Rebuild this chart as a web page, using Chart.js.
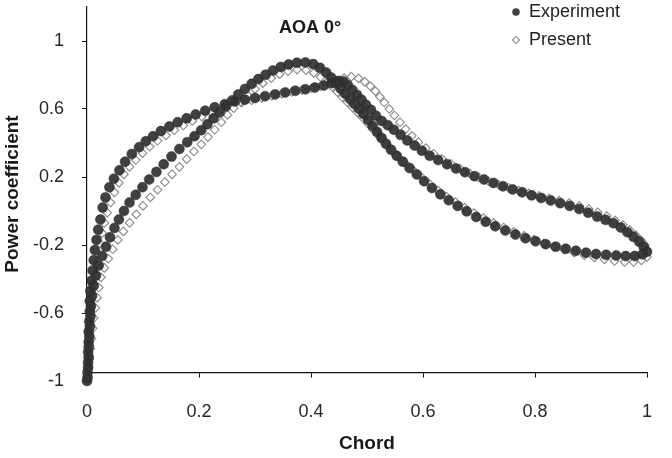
<!DOCTYPE html>
<html>
<head>
<meta charset="utf-8">
<script src="https://cdn.jsdelivr.net/npm/chart.js@4.4.1/dist/chart.umd.min.js"></script>
<style>
  html, body { margin: 0; padding: 0; background: #fff; }
</style>
</head>
<body>
<canvas id="cpChart" width="672" height="458"></canvas>
<script>
// axis ticks
const xTickValues = [0, 0.2, 0.4, 0.6, 0.8, 1];
const xTickLabels = ['0', '0.2', '0.4', '0.6', '0.8', '1'];
const yTickValues = [-1, -0.6, -0.2, 0.2, 0.6, 1];
const yTickLabels = ['-1', '-0.6', '-0.2', '0.2', '0.6', '1'];

// Experiment, surface with the early plateau
const expAX = [0.000,0.001,0.002,0.002,0.003,0.003,0.004,0.005,0.005,0.006,0.008,0.010,0.012,0.014,0.017,0.020,0.024,0.028,0.033,0.040,
  0.048,0.058,0.068,0.080,0.093,0.105,0.118,0.132,0.147,0.162,0.178,0.194,0.211,0.228,0.246,0.264,0.282,0.300,0.318,0.336,
  0.354,0.372,0.390,0.407,0.423,0.437,0.450,0.458,0.466,0.474,0.482,0.490,0.498,0.507,0.516,0.526,0.537,0.548,0.560,0.572,
  0.585,0.598,0.612,0.627,0.643,0.659,0.675,0.692,0.709,0.726,0.743,0.760,0.777,0.794,0.811,0.828,0.845,0.862,0.879,0.895,
  0.911,0.926,0.940,0.953,0.965,0.976,0.986,0.994,1.000];
const expAY = [-1.00,-0.95,-0.89,-0.83,-0.77,-0.71,-0.65,-0.59,-0.53,-0.47,-0.41,-0.35,-0.29,-0.23,-0.17,-0.11,-0.05,0.02,0.08,0.14,
  0.19,0.24,0.29,0.335,0.375,0.41,0.44,0.47,0.497,0.522,0.545,0.568,0.59,0.61,0.628,0.644,0.655,0.665,0.675,0.686,
  0.697,0.707,0.716,0.726,0.738,0.752,0.765,0.762,0.74,0.712,0.683,0.655,0.625,0.595,0.56,0.53,0.505,0.478,0.448,0.415,
  0.385,0.355,0.325,0.300,0.275,0.250,0.228,0.205,0.185,0.165,0.145,0.127,0.110,0.092,0.077,0.062,0.046,0.030,0.012,-0.010,
  -0.033,-0.052,-0.072,-0.097,-0.125,-0.152,-0.18,-0.21,-0.24];

// Experiment, surface with the high peak
const expBX = [0.001,0.002,0.003,0.003,0.004,0.005,0.006,0.007,0.009,0.012,0.016,0.021,0.027,0.034,0.041,0.049,0.057,0.066,0.076,0.087,
  0.099,0.111,0.124,0.137,0.151,0.165,0.179,0.192,0.204,0.215,0.226,0.237,0.248,0.259,0.270,0.282,0.294,0.306,0.319,0.332,
  0.346,0.360,0.375,0.390,0.404,0.416,0.427,0.436,0.445,0.453,0.461,0.470,0.478,0.486,0.494,0.502,0.510,0.518,0.526,0.534,
  0.543,0.553,0.564,0.576,0.589,0.602,0.616,0.631,0.646,0.662,0.678,0.695,0.712,0.729,0.747,0.765,0.783,0.801,0.819,0.837,
  0.855,0.873,0.891,0.909,0.927,0.945,0.962,0.978,0.992];
const expBY = [-0.98,-0.92,-0.86,-0.80,-0.74,-0.68,-0.62,-0.56,-0.50,-0.44,-0.38,-0.32,-0.265,-0.21,-0.155,-0.10,-0.05,0.0,0.05,0.095,
  0.14,0.185,0.23,0.275,0.32,0.365,0.405,0.44,0.475,0.51,0.545,0.58,0.615,0.65,0.685,0.718,0.748,0.776,0.802,0.826,
  0.847,0.862,0.872,0.874,0.864,0.842,0.815,0.785,0.752,0.72,0.69,0.658,0.628,0.60,0.57,0.535,0.50,0.465,0.43,0.395,
  0.36,0.325,0.29,0.253,0.215,0.175,0.135,0.098,0.063,0.03,-0.002,-0.035,-0.063,-0.09,-0.115,-0.138,-0.16,-0.178,-0.195,-0.21,
  -0.222,-0.234,-0.245,-0.253,-0.258,-0.262,-0.265,-0.265,-0.255];

// Present, plateau surface with the bump near 0.47
const presAX = [0.001,0.002,0.003,0.004,0.005,0.006,0.007,0.008,0.010,0.012,0.014,0.017,0.020,0.023,0.027,0.031,0.036,0.042,0.049,0.057,
  0.066,0.076,0.087,0.099,0.112,0.126,0.141,0.156,0.172,0.188,0.205,0.222,0.240,0.258,0.276,0.294,0.312,0.330,0.348,0.366,
  0.384,0.401,0.417,0.432,0.446,0.459,0.472,0.485,0.496,0.506,0.515,0.523,0.531,0.540,0.549,0.559,0.569,0.580,0.592,0.605,
  0.619,0.634,0.650,0.666,0.683,0.700,0.717,0.735,0.753,0.771,0.789,0.807,0.825,0.843,0.861,0.879,0.896,0.912,0.928,0.943,
  0.957,0.969,0.980,0.989,0.996,1.000];
const presAY = [-0.97,-0.91,-0.85,-0.79,-0.73,-0.67,-0.61,-0.55,-0.49,-0.43,-0.37,-0.31,-0.25,-0.19,-0.13,-0.07,-0.01,0.05,0.11,0.165,
  0.215,0.26,0.30,0.34,0.378,0.413,0.445,0.475,0.503,0.53,0.555,0.578,0.60,0.62,0.637,0.652,0.665,0.677,0.689,0.70,
  0.711,0.722,0.735,0.75,0.767,0.782,0.79,0.78,0.76,0.735,0.705,0.672,0.638,0.60,0.562,0.522,0.482,0.442,0.405,0.37,
  0.337,0.307,0.278,0.25,0.222,0.197,0.175,0.155,0.137,0.12,0.104,0.089,0.075,0.061,0.046,0.03,0.012,-0.008,-0.03,-0.055,
  -0.083,-0.112,-0.142,-0.172,-0.20,-0.23];

// Present, surface with the high peak
const presBX = [0.000,0.002,0.004,0.006,0.008,0.010,0.012,0.015,0.018,0.021,0.025,0.031,0.038,0.046,0.055,0.065,0.076,0.088,0.100,0.113,
  0.126,0.139,0.152,0.165,0.178,0.191,0.204,0.216,0.228,0.240,0.251,0.262,0.274,0.287,0.300,0.314,0.329,0.344,0.359,0.375,
  0.391,0.405,0.417,0.428,0.438,0.447,0.456,0.465,0.474,0.483,0.492,0.501,0.510,0.519,0.528,0.538,0.548,0.559,0.571,0.584,
  0.598,0.612,0.627,0.642,0.658,0.674,0.691,0.708,0.726,0.744,0.762,0.780,0.798,0.816,0.834,0.852,0.870,0.888,0.906,0.924,
  0.942,0.960,0.976,0.990,1.000];
const presBY = [-0.99,-0.93,-0.87,-0.81,-0.75,-0.69,-0.63,-0.57,-0.51,-0.45,-0.39,-0.335,-0.28,-0.225,-0.17,-0.12,-0.07,-0.02,0.03,0.08,
  0.125,0.17,0.215,0.26,0.305,0.35,0.392,0.435,0.478,0.522,0.565,0.605,0.643,0.68,0.718,0.752,0.782,0.805,0.822,0.832,
  0.828,0.812,0.788,0.76,0.73,0.70,0.67,0.64,0.61,0.58,0.55,0.517,0.483,0.448,0.413,0.378,0.343,0.308,0.272,0.235,
  0.197,0.158,0.12,0.085,0.052,0.02,-0.012,-0.042,-0.07,-0.097,-0.122,-0.146,-0.168,-0.19,-0.21,-0.228,-0.245,-0.26,-0.273,-0.285,
  -0.294,-0.30,-0.30,-0.29,-0.27];

const pair = (xs, ys) => xs.map((x, i) => ({ x, y: ys[i] }));

Chart.defaults.font.family = '"Liberation Sans", Arial, sans-serif';
Chart.defaults.color = '#222';

// title and legend sit inside the plot, they take no layout room
const placeBlocks = {
    id: 'placeBlocks',
    afterLayout(chart) {
        const t = chart.titleBlock;
        if (t) {
            t.left = 210; t.right = 410; t.width = 200;
            t.top = 17; t.bottom = 43; t.height = 26;
        }
        const l = chart.legend;
        if (l) {
            const w = l.width;
            l.left = 502; l.right = 502 + w;
            l.top = -7; l.bottom = 100; l.height = 107;
        }
    }
};

const ctx = document.getElementById('cpChart').getContext('2d');
new Chart(ctx, {
    type: 'scatter',
    data: {
        datasets: [{
            label: 'Experiment',
            data: [...pair(expAX, expAY), ...pair(expBX, expBY)],
            pointStyle: 'circle',
            pointRadius: 5,
            backgroundColor: 'rgba(50,50,50,0.93)',
            borderColor: 'rgba(40,40,40,0.93)',
            borderWidth: 0.5,
            clip: false
        }, {
            label: 'Present',
            data: [...pair(presAX, presAY), ...pair(presBX, presBY)],
            pointStyle: 'rectRot',
            pointRadius: 4.3,
            backgroundColor: '#ffffff',
            borderColor: '#8a8a8a',
            borderWidth: 1.1,
            clip: false
        }]
    },
    options: {
        responsive: false,
        animation: false,
        devicePixelRatio: 1,
        layout: { padding: { top: 7, right: 25, left: 0, bottom: 0 } },
        scales: {
            x: {
                type: 'linear',
                min: 0,
                max: 1,
                afterBuildTicks: scale => { scale.ticks = xTickValues.map(v => ({ value: v })); },
                afterFit: scale => { scale.height = 77; scale.paddingLeft = 0; scale.paddingRight = 0; },
                ticks: {
                    padding: 24,
                    maxRotation: 0,
                    font: { size: 18 },
                    color: '#262626',
                    callback: (v, i) => xTickLabels[i]
                },
                grid: { drawOnChartArea: false, drawTicks: true, tickLength: 5, tickColor: '#111' },
                border: { display: true, color: '#111', width: 1.2 },
                title: {
                    display: true,
                    text: 'Chord',
                    font: { size: 19, weight: 'bold' },
                    color: '#1a1a1a',
                    padding: { top: 0, bottom: -6 }
                }
            },
            y: {
                type: 'linear',
                min: -1,
                max: 1.2,
                afterBuildTicks: scale => { scale.ticks = yTickValues.map(v => ({ value: v })); },
                afterFit: scale => { scale.width = 87; scale.paddingTop = 0; scale.paddingBottom = 0; },
                ticks: {
                    padding: 18,
                    font: { size: 18 },
                    color: '#262626',
                    callback: (v, i) => yTickLabels[i]
                },
                grid: { drawOnChartArea: false, drawTicks: true, tickLength: 5, tickColor: '#111' },
                border: { display: true, color: '#111', width: 1.2 },
                title: {
                    display: true,
                    text: 'Power coefficient',
                    font: { size: 19, weight: 'bold' },
                    color: '#1a1a1a',
                    padding: { top: 1, bottom: 0 }
                }
            }
        },
        plugins: {
            title: {
                display: true,
                text: 'AOA 0°',
                font: { size: 18, weight: 'bold' },
                color: '#1a1a1a',
                padding: { top: 0, bottom: -30 }
            },
            legend: {
                display: true,
                position: 'chartArea',
                align: 'start',
                labels: {
                    usePointStyle: true,
                    boxWidth: 8,
                    boxHeight: 5,
                    padding: 10,
                    font: { size: 18 },
                    color: '#222'
                }
            },
            tooltip: { enabled: false }
        }
    },
    plugins: [placeBlocks]
});
</script>
</body>
</html>
